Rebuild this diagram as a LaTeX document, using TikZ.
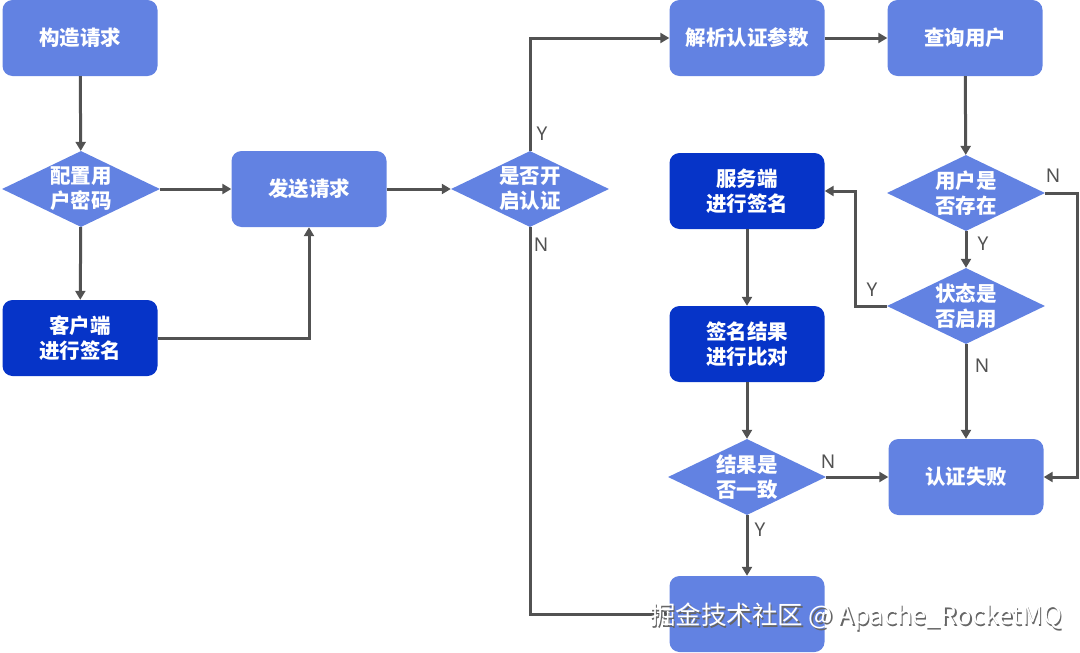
\documentclass[tikz,border=0pt]{standalone}
\usepackage{fontspec}
\setmainfont{Noto Sans}
\newfontfamily\cjk{Noto Sans CJK SC}
\usetikzlibrary{shapes.geometric,arrows.meta}
\definecolor{lightb}{RGB}{98,130,226}
\definecolor{darkb}{RGB}{6,52,200}
\definecolor{lgray}{RGB}{82,82,82}
\tikzset{
  box/.style={rectangle,rounded corners=10pt,fill=lightb,minimum width=155pt,minimum height=76pt,text=white,font=\cjk\bfseries\fontsize{20.5}{25}\selectfont,align=center,inner sep=0pt},
  dbox/.style={box,fill=darkb},
  dia/.style={diamond,fill=lightb,minimum width=158pt,minimum height=76pt,aspect=2.08,text=white,font=\cjk\bfseries\fontsize{20.5}{25}\selectfont,align=center,inner sep=0pt},
  conn/.style={draw=lgray,line width=3pt,-{Triangle[length=9pt,width=10pt]}},
  lab/.style={text=lgray,font=\fontsize{19}{20}\selectfont,inner sep=0pt}
}
\begin{document}
\begin{tikzpicture}[x=1pt,y=-1pt]
\useasboundingbox (0,0) rectangle (1080,653);
\node[box] (a) at (80,38) {构造请求};
\node[dia] (b) at (81,189) {配置用\\户密码};
\node[dbox] (c) at (80,338) {客户端\\进行签名};
\node[box] (d) at (309,189) {发送请求};
\node[dia] (e) at (530,189) {是否开\\启认证};
\node[box] (f) at (747,38) {解析认证参数};
\node[box] (g) at (965,38) {查询用户};
\node[dia] (h) at (966,193) {用户是\\否存在};
\node[dia] (i) at (966,306) {状态是\\否启用};
\node[dbox] (j) at (747,191) {服务端\\进行签名};
\node[dbox] (k) at (747,344) {签名结果\\进行比对};
\node[dia] (l) at (747,477) {结果是\\否一致};
\node[box] (m) at (966,477) {认证失败};
\node[box] (n) at (747,614) {};

\draw[conn] (a) -- (b);
\draw[conn] (b) -- (d);
\draw[conn] (b) -- (c);
\draw[conn] (c.east) -| (d.south);
\draw[conn] (d) -- (e);
\draw[conn] (e.north) |- (f.west);
\draw[conn] (e.south) |- (n.west);
\draw[conn] (f) -- (g);
\draw[conn] (g) -- (h);
\draw[conn] (h) -- (i);
\coordinate (hr) at (1077,193);
\draw[conn] (h.east) -- (hr) |- (m.east);
\coordinate (il) at (855,306);
\draw[conn] (i.west) -- (il) |- (j.east);
\draw[conn] (i) -- (m);
\draw[conn] (j) -- (k);
\draw[conn] (k) -- (l);
\draw[conn] (l) -- (m);
\draw[conn] (l) -- (n);

\node[lab] (y1) at (542,134) {Y};
\node[lab] (n1) at (541,245) {N};
\node[lab] (y2) at (983,244) {Y};
\node[lab] (n2) at (1053,176) {N};
\node[lab] (y3) at (872,290) {Y};
\node[lab] (n3) at (982,366) {N};
\node[lab] (n4) at (828,462) {N};
\node[lab] (y4) at (760,530) {Y};

\node[text=black!60,font=\cjk\fontsize{25.5}{27}\selectfont,inner sep=0pt,anchor=west] (wms) at (651.3,618.3) {掘金技术社区 @ Apache\_RocketMQ};
\node[text=white,font=\cjk\fontsize{25.5}{27}\selectfont,inner sep=0pt,anchor=west] (wm) at (650,617) {掘金技术社区 @ Apache\_RocketMQ};
\end{tikzpicture}
\end{document}
